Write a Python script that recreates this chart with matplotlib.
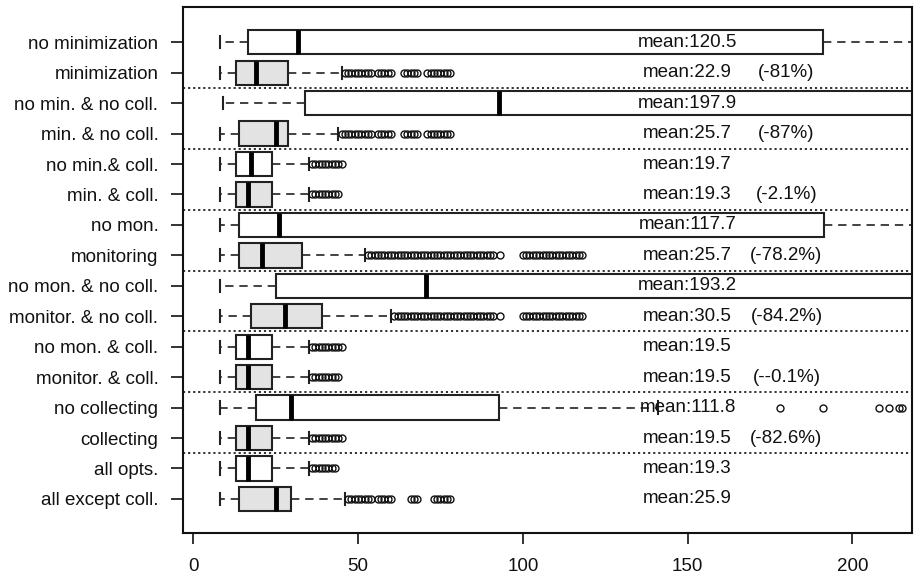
import numpy as np
import matplotlib
matplotlib.use("Agg")
import matplotlib.pyplot as plt

plt.rcParams['font.family'] = ['Liberation Sans', 'DejaVu Sans']

# ---- data (top row first) ----
labels = ["no minimization", "minimization", "no min. & no coll.", "min. & no coll.",
          "no min.& coll.", "min. & coll.", "no mon.", "monitoring",
          "no mon. & no coll.", "monitor. & no coll.", "no mon. & coll.", "monitor. & coll.",
          "no collecting", "collecting", "all opts.", "all except coll."]
whislo = [8, 8, 9, 8, 8, 8, 8, 8, 8, 8, 8, 8, 8, 8, 8, 8]
q1 = [16.7, 13.0, 33.9, 14.0, 13.0, 13.0, 14.0, 14.0, 25.1, 17.6, 13.0, 13.0, 19.0, 13.0, 13.0, 14.0]
med = [31.9, 19.0, 92.9, 25.0, 17.5, 16.6, 26.0, 20.9, 70.5, 27.8, 16.6, 16.6, 29.6, 16.6, 16.6, 25.0]
q3 = [191.2, 28.8, 260.0, 28.8, 23.8, 23.8, 191.4, 33.1, 260.0, 39.1, 23.8, 23.8, 92.9, 23.8, 23.8, 29.6]
whishi = [260, 45, 300, 44, 35, 35, 260, 52, 300, 60, 35, 35, 141, 35, 35, 46]
fliers = [
    [],
    [46, 47, 48, 49, 50, 51, 52, 53, 54, 56, 57, 58, 59, 60, 64, 65, 66, 67, 68, 71, 72, 73, 74, 75, 76, 77, 78],
    [],
    [45, 46, 47, 48, 49, 50, 51, 52, 53, 54, 56, 57, 58, 59, 60, 64, 65, 66, 67, 68, 71, 72, 73, 74, 75, 76, 77, 78],
    [36, 37, 38, 39, 40, 41, 42, 43, 44, 45],
    [36, 37, 38, 39, 40, 41, 42, 43, 44],
    [],
    [53, 54, 55, 56, 57, 58, 59, 60, 61, 62, 63, 64, 65, 66, 67, 68, 69, 70, 71, 72, 73, 74, 75, 76, 77,
     78, 79, 80, 81, 82, 83, 84, 85, 86, 87, 88, 89, 90, 91, 93,
     100, 101, 102, 103, 104, 105, 106, 107, 108, 109, 110, 111, 112, 113, 114, 115, 116, 117, 118],
    [],
    [61, 62, 63, 64, 65, 66, 67, 68, 69, 70, 71, 72, 73, 74, 75, 76, 77, 78, 79, 80, 81, 82, 83, 84, 85,
     86, 87, 88, 89, 90, 91, 93,
     100, 101, 102, 103, 104, 105, 106, 107, 108, 109, 110, 111, 112, 113, 114, 115, 116, 117, 118],
    [36, 37, 38, 39, 40, 41, 42, 43, 44, 45],
    [36, 37, 38, 39, 40, 41, 42, 43, 44],
    [178, 191, 208, 211, 214, 215],
    [36, 37, 38, 39, 40, 41, 42, 43, 44, 45],
    [36, 37, 38, 39, 40, 41, 42, 43],
    [47, 48, 49, 50, 51, 52, 53, 54, 56, 57, 58, 59, 60, 66, 67, 68, 73, 74, 75, 76, 77, 78],
]
means = ["120.5", "22.9", "197.9", "25.7", "19.7", "19.3", "117.7", "25.7",
         "193.2", "30.5", "19.5", "19.5", "111.8", "19.5", "19.3", "25.9"]
changes = ["", "(-81%)", "", "(-87%)", "", "(-2.1%)", "", "(-78.2%)",
           "", "(-84.2%)", "", "(--0.1%)", "", "(-82.6%)", "", ""]
filled = [False, True, False, True, False, True, False, True,
          False, True, False, True, False, True, False, True]
xticks = [0, 50, 100, 150, 200]

# ---- plot ----
n = len(labels)
positions = list(range(n, 0, -1))

fig = plt.figure(figsize=(9.15, 5.82), dpi=100)
ax = fig.add_axes([0.1997, 0.0842, 0.7967, 0.9033])

stats = []
for i in range(n):
    stats.append(dict(label=labels[i], whislo=whislo[i], q1=q1[i], med=med[i], q3=q3[i],
                      whishi=whishi[i], fliers=np.array(fliers[i], dtype=float)))

bp = ax.bxp(stats, positions=positions, orientation='horizontal', widths=0.8,
            patch_artist=True, showfliers=True, capwidths=0.4,
            boxprops=dict(edgecolor='#222222', linewidth=1.5),
            medianprops=dict(color='black', linewidth=3.5, solid_capstyle='butt'),
            whiskerprops=dict(color='#222222', linewidth=1.2, linestyle=(0, (5, 3.5))),
            capprops=dict(color='#222222', linewidth=1.5),
            flierprops=dict(marker='o', markerfacecolor='none', markeredgecolor='#111111',
                            markersize=5, markeredgewidth=1.0, linestyle='none'))
for patch, f in zip(bp['boxes'], filled):
    patch.set_facecolor('#E3E3E3' if f else 'white')

# separators
for y in [14.5, 12.5, 10.5, 8.5, 6.5, 4.5, 2.5]:
    ax.axhline(y, color='#222222', linewidth=1.3, linestyle=(0, (1.2, 1.6)))

# mean annotations
for i in range(n):
    ax.text(150, positions[i], "mean:" + means[i], ha='center', va='center',
            fontsize=13.5, color='#111111')
    if changes[i]:
        ax.text(180, positions[i], changes[i], ha='center', va='center',
                fontsize=13.5, color='#111111')

ax.set_xlim(-3.2, 218)
ax.set_ylim(-0.12, 17.15)
ax.set_yticks(positions)
ax.set_yticklabels(labels, fontsize=13.5)
ax.set_xticks(xticks)
ax.set_xticklabels([str(t) for t in xticks], fontsize=13.5)
ax.tick_params(axis='y', length=9, width=1.2, pad=8.5, colors='#111111')
ax.tick_params(axis='x', length=8, width=1.2, pad=10, colors='#111111')
for s in ax.spines.values():
    s.set_linewidth(1.5)
    s.set_color('#111111')

fig.savefig("out.png", dpi=100)
